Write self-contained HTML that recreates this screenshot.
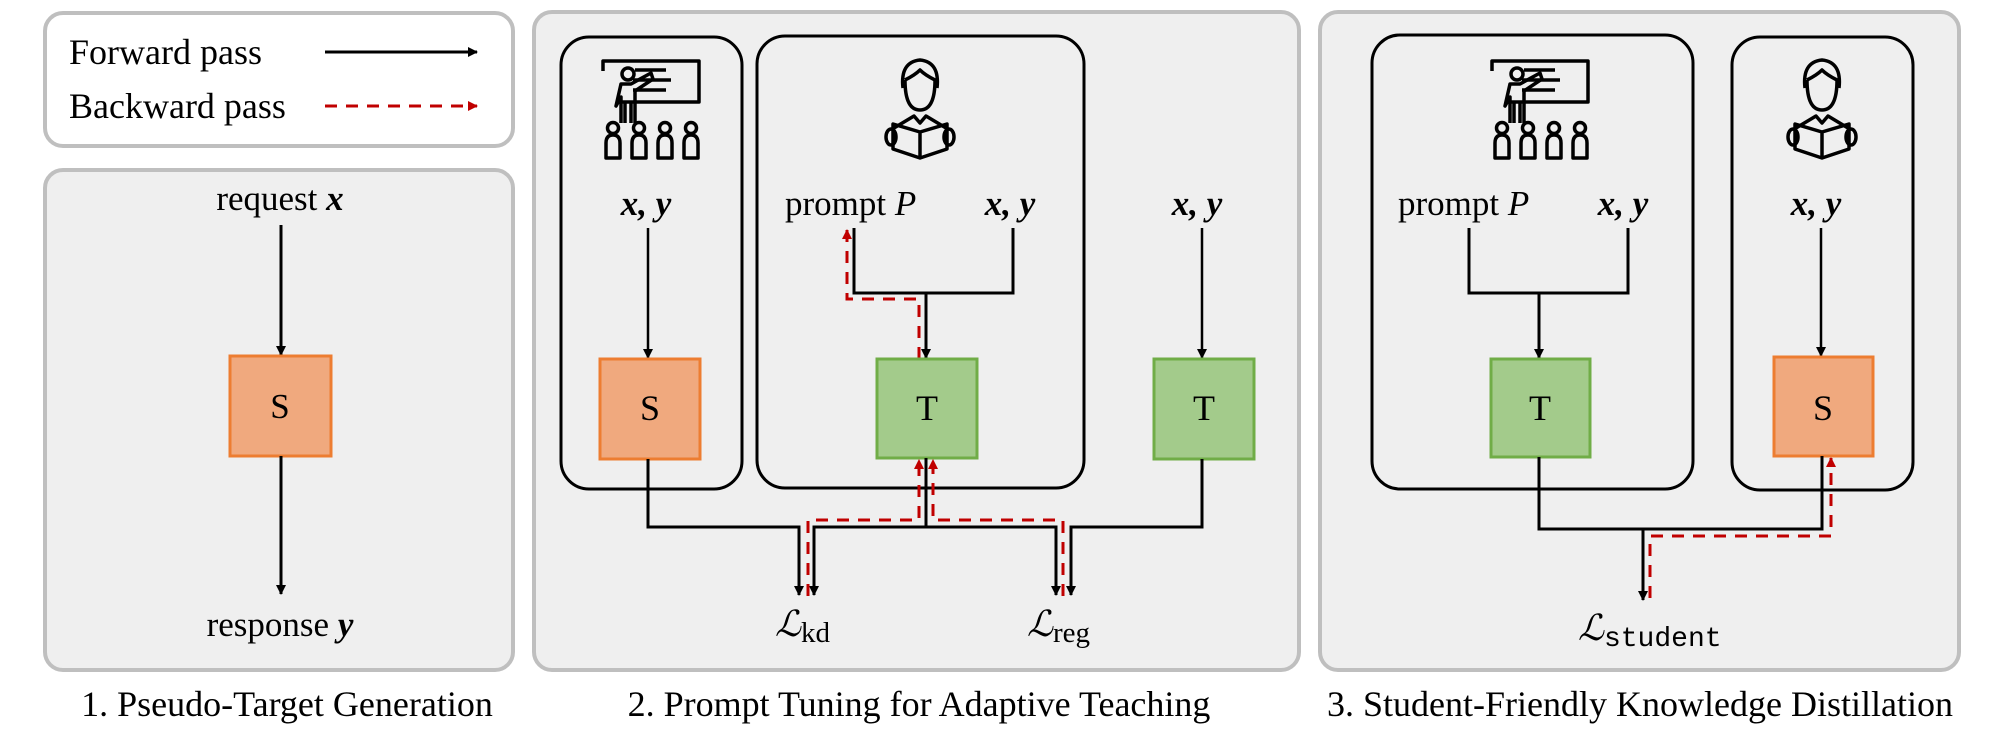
<!DOCTYPE html>
<html><head><meta charset="utf-8"><style>
html,body{margin:0;padding:0;background:#fff;}
svg{display:block;}
text{font-family:"Liberation Serif",serif;fill:#000;}
</style></head><body>
<svg width="1998" height="738" viewBox="0 0 1998 738" xmlns="http://www.w3.org/2000/svg">
<defs>
<marker id="ab" markerWidth="10" markerHeight="10" refX="9" refY="5" orient="auto" markerUnits="userSpaceOnUse" viewBox="0 0 10 10"><path d="M0,0 L10,5 L0,10 Z" fill="#000"/></marker>
<marker id="ar" markerWidth="10" markerHeight="10" refX="9" refY="5" orient="auto" markerUnits="userSpaceOnUse" viewBox="0 0 10 10"><path d="M0,0 L10,5 L0,10 Z" fill="#c00000"/></marker>
<g id="teach" fill="none" stroke="#000" stroke-width="3.5" stroke-linejoin="round">
  <path d="M0,10 V0 H96 V41 H18"/>
  <line x1="32" y1="9" x2="63" y2="9"/><line x1="30" y1="19" x2="68" y2="19"/><line x1="30" y1="29" x2="63" y2="29"/>
  <circle cx="25" cy="13" r="6"/>
  <path d="M18,62 V36 L13,45 L18,23 H28 L48,12 L50,18 L32,30 V62"/>
  <path d="M22,62 V42 M28,62 V42"/>
  <g id="ppl"><circle cx="10" cy="67" r="5.5"/><path d="M3,97 V82 Q3,74 10,74 Q17,74 17,82 V97 Z"/></g>
  <use href="#ppl" x="26"/><use href="#ppl" x="52"/><use href="#ppl" x="78"/>
</g>
<g id="stud" fill="none" stroke="#000" stroke-width="3.5" stroke-linejoin="round">
  <path d="M-17,28 Q-20,2 0,0 Q20,2 17,28"/>
  <path d="M-15,20 Q-15,50 0,50 Q15,50 15,20 Q5,15 0,10 Q-5,15 -15,20"/>
  <path d="M-26,68 L-6,56 L0,63 L6,56 L26,68"/>
  <path d="M-27,64 V89 L0,98 L27,89 V64 L0,72 Z M0,72 V98"/>
  <ellipse cx="-29" cy="77" rx="5" ry="8"/><ellipse cx="29" cy="77" rx="5" ry="8"/>
</g>
</defs>

<rect x="45" y="13" width="468" height="133" rx="18" fill="#fff" stroke="#bfbfbf" stroke-width="4"/>
<text x="69" y="64" font-size="36">Forward pass</text>
<text x="69" y="118" font-size="36">Backward pass</text>
<line x1="325" y1="52" x2="477" y2="52" stroke="#000" stroke-width="3" marker-end="url(#ab)"/>
<line x1="325" y1="106" x2="477" y2="106" stroke="#c00000" stroke-width="3" stroke-dasharray="12,9" marker-end="url(#ar)"/>

<rect x="45" y="170" width="468" height="500" rx="18" fill="#efefef" stroke="#bfbfbf" stroke-width="4"/>
<rect x="534" y="12" width="765" height="658" rx="18" fill="#efefef" stroke="#bfbfbf" stroke-width="4"/>
<rect x="1320" y="12" width="639" height="658" rx="18" fill="#efefef" stroke="#bfbfbf" stroke-width="4"/>

<text x="287" y="716" font-size="36" text-anchor="middle">1. Pseudo-Target Generation</text>
<text x="919" y="716" font-size="36" text-anchor="middle">2. Prompt Tuning for Adaptive Teaching</text>
<text x="1640" y="716" font-size="36" text-anchor="middle">3. Student-Friendly Knowledge Distillation</text>

<text x="280" y="210" font-size="35" text-anchor="middle">request <tspan font-weight="bold" font-style="italic">x</tspan></text>
<line x1="281" y1="225" x2="281" y2="355" stroke="#000" stroke-width="3" marker-end="url(#ab)"/>
<rect x="230" y="356" width="101" height="100" fill="#f0a97e" stroke="#ed7d31" stroke-width="3"/>
<text x="280" y="418" font-size="35" text-anchor="middle">S</text>
<line x1="281" y1="456" x2="281" y2="594" stroke="#000" stroke-width="3" marker-end="url(#ab)"/>
<text x="280" y="636" font-size="35" text-anchor="middle">response <tspan font-weight="bold" font-style="italic">y</tspan></text>

<rect x="561" y="37" width="181" height="452" rx="28" fill="none" stroke="#000" stroke-width="3"/>
<rect x="757" y="36" width="327" height="452" rx="28" fill="none" stroke="#000" stroke-width="3"/>
<use href="#teach" x="603" y="61"/>
<use href="#stud" x="920" y="60"/>
<text x="646" y="215" font-size="35" font-weight="bold" font-style="italic" text-anchor="middle">x, y</text>
<line x1="648" y1="228" x2="648" y2="358" stroke="#000" stroke-width="2.5" marker-end="url(#ab)"/>
<rect x="600" y="359" width="100" height="100" fill="#f0a97e" stroke="#ed7d31" stroke-width="3"/>
<text x="650" y="420" font-size="36" text-anchor="middle">S</text>

<text x="785" y="215" font-size="35">prompt <tspan font-style="italic">P</tspan></text>
<text x="1010" y="215" font-size="35" font-weight="bold" font-style="italic" text-anchor="middle">x, y</text>
<path d="M854,228 V293 H1013 V228" fill="none" stroke="#000" stroke-width="3"/>
<line x1="926" y1="293" x2="926" y2="358" stroke="#000" stroke-width="3" marker-end="url(#ab)"/>
<path d="M919,359 V299 H847 V230" fill="none" stroke="#c00000" stroke-width="3" stroke-dasharray="12,9" marker-end="url(#ar)"/>
<rect x="877" y="359" width="100" height="99" fill="#a3cb8b" stroke="#70ad47" stroke-width="3"/>
<text x="927" y="420" font-size="36" text-anchor="middle">T</text>

<text x="1197" y="215" font-size="35" font-weight="bold" font-style="italic" text-anchor="middle">x, y</text>
<line x1="1202" y1="228" x2="1202" y2="358" stroke="#000" stroke-width="2.5" marker-end="url(#ab)"/>
<rect x="1154" y="359" width="100" height="100" fill="#a3cb8b" stroke="#70ad47" stroke-width="3"/>
<text x="1204" y="420" font-size="36" text-anchor="middle">T</text>

<path d="M648,459 V527 H799 V595" fill="none" stroke="#000" stroke-width="3" marker-end="url(#ab)"/>
<line x1="926" y1="458" x2="926" y2="527" stroke="#000" stroke-width="3"/>
<path d="M926,527 H814 V595" fill="none" stroke="#000" stroke-width="3" marker-end="url(#ab)"/>
<path d="M926,527 H1056 V595" fill="none" stroke="#000" stroke-width="3" marker-end="url(#ab)"/>
<path d="M1202,459 V527 H1071 V595" fill="none" stroke="#000" stroke-width="3" marker-end="url(#ab)"/>
<path d="M808,596 V520 H919 V460" fill="none" stroke="#c00000" stroke-width="3" stroke-dasharray="12,9" marker-end="url(#ar)"/>
<path d="M1063,596 V520 H933 V460" fill="none" stroke="#c00000" stroke-width="3" stroke-dasharray="12,9" marker-end="url(#ar)"/>
<text x="775" y="636" font-size="36" font-style="italic">ℒ<tspan font-style="normal" font-size="29" dy="6">kd</tspan></text>
<text x="1027" y="636" font-size="36" font-style="italic">ℒ<tspan font-style="normal" font-size="29" dy="6">reg</tspan></text>

<rect x="1372" y="35" width="321" height="454" rx="28" fill="none" stroke="#000" stroke-width="3"/>
<rect x="1732" y="37" width="181" height="453" rx="28" fill="none" stroke="#000" stroke-width="3"/>
<use href="#teach" x="1492" y="61"/>
<use href="#stud" x="1822" y="60"/>
<text x="1398" y="215" font-size="35">prompt <tspan font-style="italic">P</tspan></text>
<text x="1623" y="215" font-size="35" font-weight="bold" font-style="italic" text-anchor="middle">x, y</text>
<path d="M1469,228 V293 H1628 V228" fill="none" stroke="#000" stroke-width="3"/>
<line x1="1539" y1="293" x2="1539" y2="358" stroke="#000" stroke-width="3" marker-end="url(#ab)"/>
<rect x="1491" y="359" width="99" height="98" fill="#a3cb8b" stroke="#70ad47" stroke-width="3"/>
<text x="1540" y="420" font-size="36" text-anchor="middle">T</text>
<text x="1816" y="215" font-size="35" font-weight="bold" font-style="italic" text-anchor="middle">x, y</text>
<line x1="1821" y1="228" x2="1821" y2="356" stroke="#000" stroke-width="2.5" marker-end="url(#ab)"/>
<rect x="1774" y="357" width="99" height="99" fill="#f0a97e" stroke="#ed7d31" stroke-width="3"/>
<text x="1823" y="420" font-size="36" text-anchor="middle">S</text>
<path d="M1539,457 V529 H1822 V456" fill="none" stroke="#000" stroke-width="3"/>
<line x1="1643" y1="529" x2="1643" y2="600" stroke="#000" stroke-width="3" marker-end="url(#ab)"/>
<path d="M1650,598 V536 H1831 V458" fill="none" stroke="#c00000" stroke-width="3" stroke-dasharray="12,9" marker-end="url(#ar)"/>
<text x="1578" y="640" font-size="36" font-style="italic">ℒ<tspan font-style="normal" font-family="Liberation Mono, monospace" font-size="28" dy="6">student</tspan></text>
</svg>
</body></html>
